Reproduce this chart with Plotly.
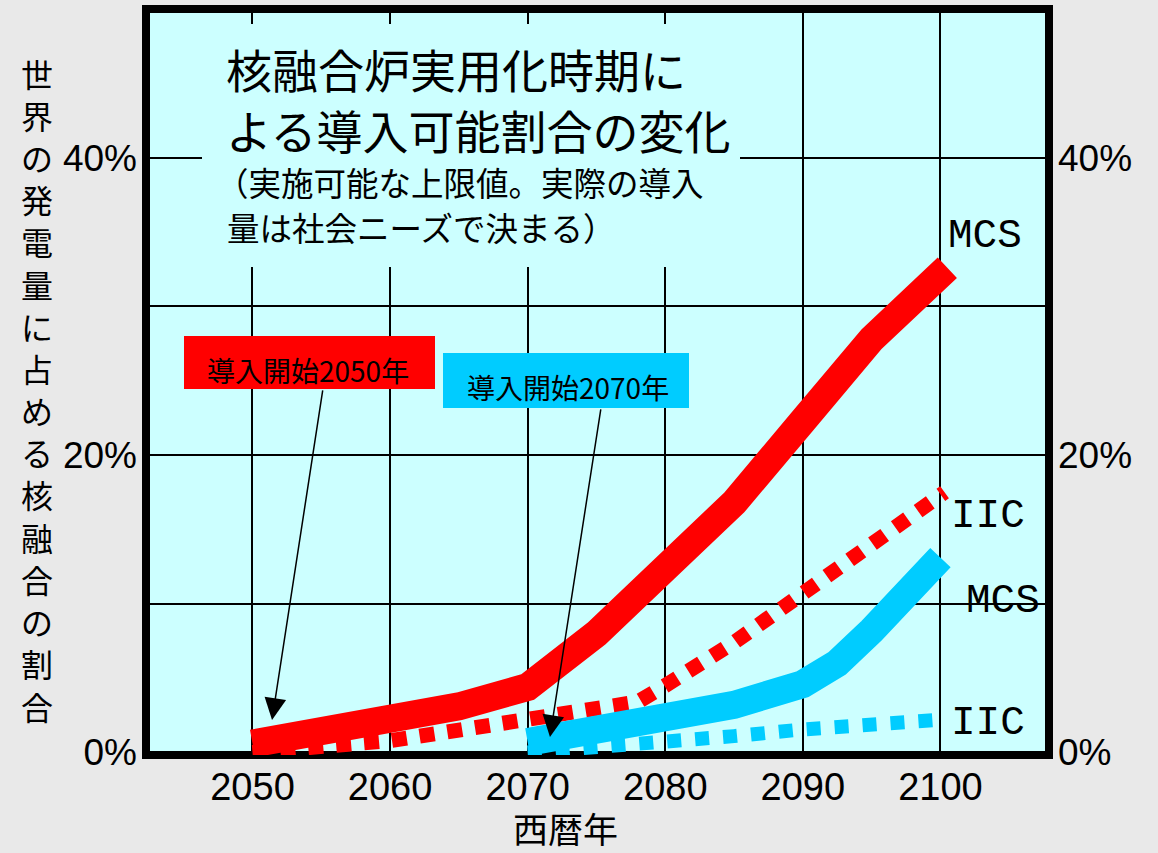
import plotly.graph_objects as go

# ---------------- data ----------------
years_red_mcs = [2050, 2055, 2060, 2065, 2070, 2075, 2080, 2085, 2090, 2095, 2100.5]
red_mcs = [0.6, 1.5, 2.1, 3.1, 4.4, 8.0, 12.4, 16.8, 22.3, 27.8, 32.6]

years_red_iic = [2050, 2055, 2060, 2065, 2070, 2075, 2078, 2080, 2085, 2090, 2095, 2100.3]
red_iic = [0.0, 0.3, 0.8, 1.5, 2.2, 2.75, 3.4, 4.5, 7.4, 10.7, 14.0, 17.5]

years_cyan_mcs = [2070, 2075, 2080, 2085, 2090, 2092.5, 2095, 2100]
cyan_mcs = [0.7, 1.5, 2.2, 3.2, 4.6, 6.0, 8.2, 13.1]

years_cyan_iic = [2070, 2075, 2080, 2085, 2090, 2095, 2100]
cyan_iic = [0.0, 0.3, 0.75, 1.1, 1.55, 1.85, 2.2]

x_ticks = [2050, 2060, 2070, 2080, 2090, 2100]
x_ticktext = ["2050", "2060", "2070", "2080", "2090", "2100"]
y_ticks = [0, 10, 20, 30, 40]
y_ticktext = ["0%", "", "20%", "", "40%"]

title_lines = ["核融合炉実用化時期に", "よる導入可能割合の変化"]
sub_lines = ["（実施可能な上限値。実際の導入", "量は社会ニーズで決まる）"]
y_title = "世界の発電量に占める核融合の割合"
x_title = "西暦年"
label_2050 = "導入開始2050年"
label_2070 = "導入開始2070年"

# ---------------- layout geometry ----------------
W, H = 1158, 853
L, R, T, B = 146, 109, 9, 98
PW, PH = W - L - R, H - T - B

RED = "#ff0000"
CYAN = "#00ccff"
BG = "#ccffff"
PAPER = "#e9e9e9"
JP = "Noto Sans CJK JP"
LAT = "Liberation Sans, Arial"
MONO = "Liberation Mono, Courier New"


def px(xp):
    return (xp - L) / PW


def py(yp):
    return (H - B - yp) / PH


fig = go.Figure()

fig.add_trace(go.Scatter(x=years_red_iic, y=red_iic, mode="lines",
                         line=dict(color=RED, width=15, dash="15px,13px"),
                         hoverinfo="skip", showlegend=False))
fig.add_trace(go.Scatter(x=years_red_mcs, y=red_mcs, mode="lines",
                         line=dict(color=RED, width=28),
                         hoverinfo="skip", showlegend=False))
fig.add_trace(go.Scatter(x=years_cyan_iic, y=cyan_iic, mode="lines",
                         line=dict(color=CYAN, width=14, dash="14px,14px"),
                         hoverinfo="skip", showlegend=False))
fig.add_trace(go.Scatter(x=years_cyan_mcs, y=cyan_mcs, mode="lines",
                         line=dict(color=CYAN, width=28),
                         hoverinfo="skip", showlegend=False))
# invisible trace to activate the right-hand axis
fig.add_trace(go.Scatter(x=years_red_mcs, y=red_mcs, yaxis="y2", mode="lines",
                         line=dict(width=0), opacity=0,
                         hoverinfo="skip", showlegend=False))

x_range = [2042.26, 2107.89]
y_range = [-0.17, 50.0]

fig.update_layout(
    width=W, height=H,
    margin=dict(l=L, r=R, t=T, b=B, pad=0),
    paper_bgcolor=PAPER, plot_bgcolor=BG,
    showlegend=False,
    xaxis=dict(range=x_range, tickvals=x_ticks, ticktext=x_ticktext,
               showgrid=True, gridcolor="black", gridwidth=1.5,
               zeroline=False, showline=False, ticks="",
               tickfont=dict(family=LAT, size=38, color="black"),
               ticklabelstandoff=6, fixedrange=True),
    yaxis=dict(range=y_range, tickvals=y_ticks, ticktext=y_ticktext,
               showgrid=True, gridcolor="black", gridwidth=1.5,
               zeroline=False, showline=False, ticks="",
               tickfont=dict(family=LAT, size=37, color="black"),
               ticklabelstandoff=8, fixedrange=True),
    yaxis2=dict(range=y_range, tickvals=y_ticks, ticktext=y_ticktext,
                overlaying="y", side="right", showgrid=False,
                zeroline=False, showline=False, ticks="",
                tickfont=dict(family=LAT, size=37, color="black"),
                ticklabelstandoff=8, fixedrange=True),
)

shapes = [
    # thick black frame
    dict(type="rect", xref="paper", yref="paper", x0=0, x1=1, y0=0, y1=1,
         line=dict(color="black", width=8), fillcolor="rgba(0,0,0,0)", layer="below"),
    # title backdrop covering gridlines
    dict(type="rect", xref="paper", yref="paper", x0=px(202), x1=px(740),
         y0=py(267), y1=py(24), line=dict(width=0), fillcolor=BG, layer="above"),
    # label boxes
    dict(type="rect", xref="paper", yref="paper", x0=px(184), x1=px(435),
         y0=py(389), y1=py(336), line=dict(width=0), fillcolor=RED, layer="above"),
    dict(type="rect", xref="paper", yref="paper", x0=px(443), x1=px(689),
         y0=py(408), y1=py(353), line=dict(width=0), fillcolor=CYAN, layer="above"),
]
fig.update_layout(shapes=shapes)

ann = []
ann.append(dict(text=title_lines[0], x=px(224), y=py(67.5), xref="paper", yref="paper",
                xanchor="left", yanchor="middle", showarrow=False,
                font=dict(family=JP, size=46, color="black")))
ann.append(dict(text=title_lines[1], x=px(224), y=py(128.5), xref="paper", yref="paper",
                xanchor="left", yanchor="middle", showarrow=False,
                font=dict(family=JP, size=46, color="black")))
ann.append(dict(text=sub_lines[0], x=px(214), y=py(181.5), xref="paper", yref="paper",
                xanchor="left", yanchor="middle", showarrow=False,
                font=dict(family=JP, size=32.5, color="black")))
ann.append(dict(text=sub_lines[1], x=px(225), y=py(226.5), xref="paper", yref="paper",
                xanchor="left", yanchor="middle", showarrow=False,
                font=dict(family=JP, size=32.5, color="black")))
ann.append(dict(text=label_2050, x=px(308), y=py(369.5), xref="paper", yref="paper",
                xanchor="center", yanchor="middle", showarrow=False,
                font=dict(family=JP, size=28, color="black")))
ann.append(dict(text=label_2070, x=px(567.5), y=py(386.5), xref="paper", yref="paper",
                xanchor="center", yanchor="middle", showarrow=False,
                font=dict(family=JP, size=28, color="black")))
# arrows
ann.append(dict(text="", x=2051.42, y=2.19, ax=2055.12, ay=24.45,
                xref="x", yref="y", axref="x", ayref="y", showarrow=True,
                arrowhead=2, arrowsize=2.9, arrowwidth=1.5, arrowcolor="black", standoff=0))
ann.append(dict(text="", x=2071.62, y=1.04, ax=2075.33, ay=23.17,
                xref="x", yref="y", axref="x", ayref="y", showarrow=True,
                arrowhead=2, arrowsize=2.9, arrowwidth=1.5, arrowcolor="black", standoff=0))
# series labels
for txt, cx, cy in [("MCS", 985, 236), ("IIC", 987.5, 516),
                    ("MCS", 1002.5, 601), ("IIC", 987.5, 723)]:
    ann.append(dict(text=txt, x=px(cx), y=py(cy), xref="paper", yref="paper",
                    xanchor="center", yanchor="middle", showarrow=False,
                    font=dict(family=MONO, size=41, color="black")))
# vertical y-axis title, one character per row
pitch = 42.2
for i, ch in enumerate(y_title):
    ann.append(dict(text=ch, x=px(37), y=py(72.5 + i * pitch),
                    xref="paper", yref="paper", xanchor="center", yanchor="middle",
                    showarrow=False, font=dict(family=JP, size=32, color="black")))
ann.append(dict(text=x_title, x=px(565), y=py(827), xref="paper", yref="paper",
                xanchor="center", yanchor="middle", showarrow=False,
                font=dict(family=JP, size=35, color="black")))
fig.update_layout(annotations=ann)

fig.write_html("out.html")
